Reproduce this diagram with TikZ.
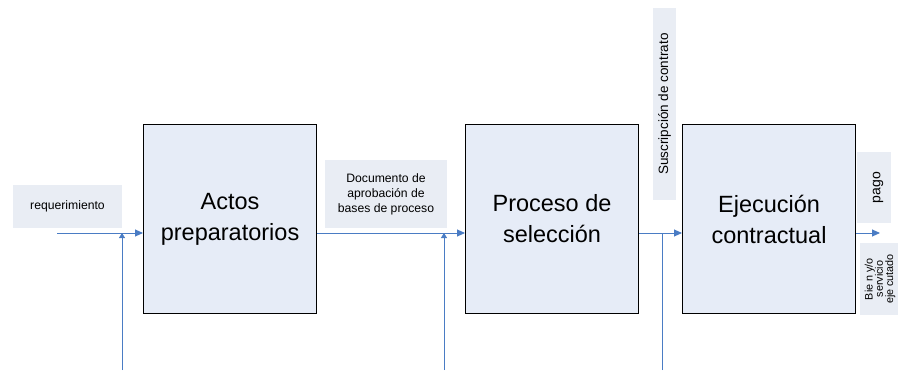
\documentclass[tikz,border=0pt]{standalone}
\usepackage{fontspec}
\setmainfont{Liberation Sans}
\usetikzlibrary{arrows.meta}
\definecolor{boxfill}{HTML}{E6ECF7}
\definecolor{lblfill}{HTML}{E9EDF4}
\definecolor{flow}{HTML}{4A7CC4}
\begin{document}
\begin{tikzpicture}[x=1pt,y=-1pt,
  stage/.style={draw=black,line width=1.1pt,fill=boxfill,minimum width=173pt,minimum height=189pt,
    anchor=north west,align=center,inner sep=0pt,font=\fontsize{23.5}{31}\selectfont},
  lbl/.style={fill=lblfill,inner sep=0pt,align=center,font=\fontsize{12.2}{15}\selectfont},
  vtext/.style={rotate=90,align=center,font=\fontsize{12.5}{14}\selectfont},
  flowline/.style={draw=flow,line width=0.9pt},
  tip/.style={-{Triangle[length=8pt,width=7pt]}},
  uptip/.style={-{Triangle[length=5pt,width=6pt]}}]
\useasboundingbox (0,0) rectangle (900,372);

% process stages
\node[stage] (s1) at (143,124) {Actos\\preparatorios};
\node[stage] (s2) at (465,124) {Proceso de\\selección};
\node[stage] (s3) at (682,124) {Ejecución\\contractual};

% labels
\node[lbl,minimum width=109pt,minimum height=43pt] (lreq) at (67.5,206.5) {requerimiento};
\node[lbl,minimum width=122pt,minimum height=68pt] (ldoc) at (386,194) {Documento de\\aprobación de\\bases de proceso};
\node[lbl,minimum width=23pt,minimum height=192pt] (lsus) at (664.5,104) {};
\node[vtext,font=\fontsize{13.5}{15}\selectfont] (tsus) at (lsus.center) {Suscripción de contrato};
\node[lbl,minimum width=34pt,minimum height=71pt] (lpago) at (874,187.5) {};
\node[vtext,font=\fontsize{14}{15}\selectfont] (tpago) at ([xshift=4pt]lpago.center) {pago};
\node[lbl,minimum width=38pt,minimum height=72pt] (lbien) at (879,279) {};
\node[vtext,font=\fontsize{10.8}{10.2}\selectfont] (tbien) at ([xshift=1pt]lbien.center) {Bie n y/o\\servicio\\eje cutado};

% connection points
\coordinate (in0) at (57,233);
\coordinate (j1) at (122,233);
\coordinate (j2) at (444,233);
\coordinate (j3) at (662,233);
\coordinate (b1) at (122,370);
\coordinate (b2) at (444,370);
\coordinate (b3) at (662,370);
\coordinate (out) at (880,233);

% main flow
\draw[flowline,tip] (in0) -- (s1.west |- in0);
\draw[flowline,tip] (s1.east |- in0) -- (s2.west |- in0);
\draw[flowline,tip] (s2.east |- in0) -- (s3.west |- in0);
\draw[flowline,tip] (s3.east |- in0) -- (out);

% inputs from below
\draw[flowline,uptip] (b1) -- (j1);
\draw[flowline,uptip] (b2) -- (j2);
\draw[flowline] (b3) -- (j3);
\end{tikzpicture}
\end{document}
